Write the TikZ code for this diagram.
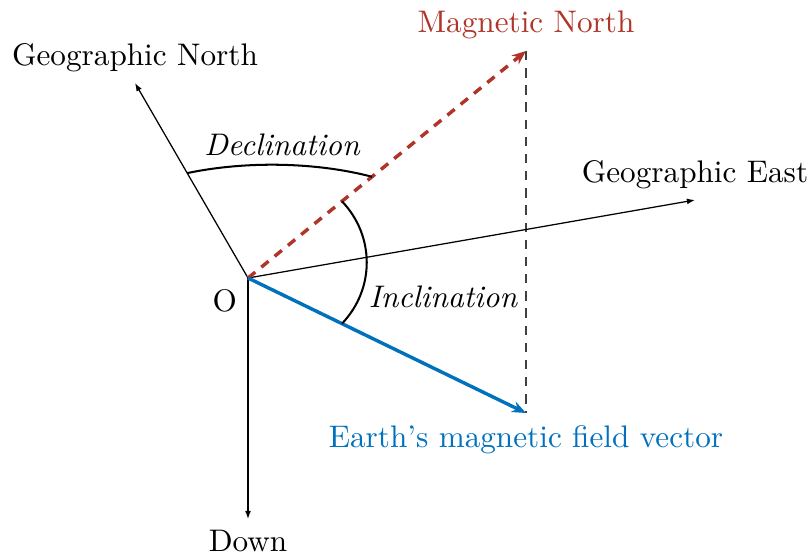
\documentclass[tikz,border=0pt]{standalone}
\usetikzlibrary{arrows.meta}
\definecolor{mred}{RGB}{176,52,40}
\definecolor{mblue}{RGB}{0,114,189}
\begin{document}
\begin{tikzpicture}[x=0.3205pt,y=-0.3205pt,
  axis/.style={line width=0.4pt,-{Latex[length=2.6pt,width=1.9pt]}},
  magn/.style={mred,line width=1.1pt,dash pattern=on 3pt off 2.5pt,-{Stealth[length=4.5pt,width=3.6pt]}},
  field/.style={mblue,line width=1.1pt,-{Stealth[length=4.5pt,width=3.6pt]}},
  guide/.style={black!75,line width=0.4pt,dash pattern=on 3pt off 2.5pt},
  anglearc/.style={line width=0.65pt},
  anglelabel/.style={font=\itshape}]
\useasboundingbox (0,0) rectangle (810,559);
\coordinate (O) at (248,278);
\coordinate (GN) at (135,83);
\coordinate (MN) at (526,51);
\coordinate (GE) at (695,200);
\coordinate (DN) at (248,519);
\coordinate (EF) at (526,413);
\draw[guide] (MN) -- (EF);
\draw[axis] (O) -- (GN) node[above] {Geographic North};
\draw[axis] (O) -- (GE) node[above] {Geographic East};
\draw[axis] (O) -- (DN) node[below] {Down};
\draw[magn] (O) -- (MN) node[above,text=mred] {Magnetic North};
\draw[field] (O) -- (EF) node[below,text=mblue] {Earth's magnetic field vector};
\path (O) -- (GN) coordinate[pos=0.538] (d1);
\path (O) -- (MN) coordinate[pos=0.446] (d2);
\path (O) -- (MN) coordinate[pos=0.338] (i1);
\path (O) -- (EF) coordinate[pos=0.338] (i2);
\draw[anglearc] (d1) .. controls (250,160) and (320,163) .. (d2);
\draw[anglearc] (i1) .. controls (375,236) and (375,289) .. (i2);
\node[anglelabel] (declab) at (282,145) {Declination};
\node[anglelabel] (inclab) at (443,297) {Inclination};
\node[below left] (olab) at (O) {O};
\end{tikzpicture}
\end{document}
